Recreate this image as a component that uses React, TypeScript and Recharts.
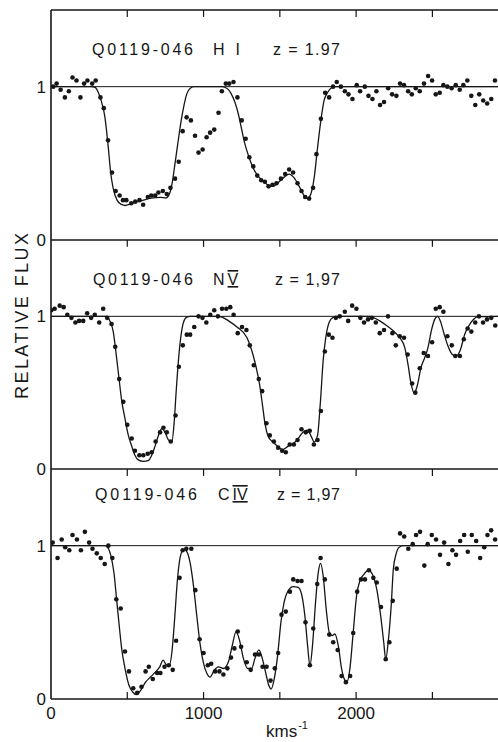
import { ComposedChart, Line, Scatter, XAxis, YAxis, ReferenceLine } from 'recharts';

// velocity (km/s) and relative flux
const hiDots: [number, number][] = [
  [15, 1.0], [37, 1.02], [63, 0.98], [91, 0.93], [117, 0.97], [141, 1.06], [167, 1.04], [193, 0.93], [217, 1.02], [239, 1.04],
  [270, 1.02], [293, 1.04], [324, 0.93], [346, 0.86], [374, 0.65], [400, 0.44], [424, 0.32], [450, 0.29], [472, 0.26], [494, 0.26],
  [526, 0.24], [552, 0.25], [580, 0.26], [604, 0.23], [635, 0.28], [657, 0.29], [683, 0.29], [704, 0.31], [733, 0.32], [759, 0.3],
  [783, 0.34], [813, 0.4], [837, 0.51], [863, 0.71], [889, 0.8], [917, 0.78], [944, 0.68], [967, 0.57], [994, 0.59], [1020, 0.67],
  [1043, 0.7], [1070, 0.72], [1098, 0.83], [1120, 0.97], [1146, 1.02], [1168, 1.02], [1196, 1.03], [1222, 0.93], [1250, 0.78], [1276, 0.66],
  [1300, 0.54], [1326, 0.48], [1352, 0.42], [1378, 0.39], [1402, 0.38], [1426, 0.35], [1452, 0.36], [1478, 0.37], [1507, 0.4], [1535, 0.43],
  [1561, 0.46], [1587, 0.44], [1616, 0.37], [1642, 0.32], [1666, 0.28], [1692, 0.27], [1718, 0.34], [1740, 0.56], [1769, 0.79], [1797, 0.96],
  [1823, 0.93], [1849, 1.0], [1873, 1.03], [1900, 1.0], [1926, 0.97], [1950, 0.95], [1976, 0.92], [2004, 1.01], [2026, 0.97], [2057, 1.0],
  [2081, 0.94], [2107, 0.92], [2133, 0.97], [2157, 0.88], [2183, 0.9], [2210, 0.99], [2236, 0.95], [2264, 0.94], [2288, 1.02], [2314, 1.01],
  [2341, 0.97], [2365, 0.95], [2391, 0.99], [2417, 0.97], [2445, 1.02], [2472, 1.07], [2498, 1.04], [2522, 0.95], [2548, 0.96], [2572, 1.01],
  [2598, 1.0], [2626, 0.99], [2653, 1.01], [2679, 0.98], [2703, 1.01], [2729, 1.04], [2755, 0.94], [2781, 0.88], [2807, 0.95], [2833, 0.91],
  [2859, 0.89], [2886, 0.92], [2910, 1.04],
];

const hiFit: [number, number][] = [
  [0, 1], [265, 1], [289, 0.995], [311, 0.96], [337, 0.88], [352, 0.81], [374, 0.62], [391, 0.44], [407, 0.34], [433, 0.26],
  [461, 0.232], [487, 0.225], [515, 0.232], [548, 0.245], [591, 0.256], [657, 0.273], [718, 0.278], [754, 0.274], [776, 0.3], [794, 0.37],
  [813, 0.5], [830, 0.62], [852, 0.77], [870, 0.87], [889, 0.95], [913, 0.99], [939, 1], [1115, 1], [1152, 0.99], [1178, 0.96],
  [1205, 0.9], [1226, 0.83], [1248, 0.73], [1270, 0.63], [1298, 0.54], [1330, 0.46], [1363, 0.41], [1396, 0.38], [1428, 0.355], [1455, 0.35],
  [1485, 0.37], [1528, 0.41], [1561, 0.43], [1594, 0.405], [1627, 0.35], [1659, 0.29], [1681, 0.27], [1703, 0.3], [1725, 0.405], [1747, 0.6],
  [1769, 0.78], [1790, 0.91], [1812, 0.96], [1834, 0.99], [1867, 1], [2930, 1],
];

const nvDots: [number, number][] = [
  [2, 1.04], [24, 1.05], [57, 1.07], [83, 1.06], [107, 1.01], [134, 0.99], [160, 0.96], [184, 0.97], [211, 0.97], [237, 1.02],
  [263, 0.99], [287, 1.01], [316, 0.96], [342, 1.05], [368, 0.99], [397, 0.95], [421, 0.8], [447, 0.59], [474, 0.44], [500, 0.29],
  [529, 0.2], [550, 0.12], [579, 0.09], [605, 0.09], [634, 0.1], [660, 0.11], [686, 0.18], [715, 0.24], [737, 0.27], [759, 0.24],
  [785, 0.18], [816, 0.35], [838, 0.67], [864, 0.81], [890, 0.88], [912, 0.88], [939, 0.93], [967, 1.0], [993, 0.99], [1018, 0.96],
  [1044, 1.01], [1070, 1.04], [1094, 1.0], [1121, 1.05], [1149, 1.05], [1175, 1.06], [1197, 1.01], [1224, 0.89], [1252, 0.93], [1281, 0.91],
  [1303, 0.81], [1329, 0.68], [1362, 0.59], [1384, 0.51], [1412, 0.3], [1434, 0.22], [1461, 0.18], [1489, 0.14], [1515, 0.12], [1539, 0.11],
  [1565, 0.16], [1592, 0.16], [1616, 0.19], [1642, 0.26], [1670, 0.24], [1696, 0.25], [1723, 0.16], [1747, 0.19], [1769, 0.38], [1795, 0.77],
  [1821, 0.88], [1845, 0.86], [1867, 0.99], [1893, 1.0], [1926, 1.03], [1948, 0.97], [1974, 1.07], [2002, 1.05], [2028, 0.99], [2052, 0.96],
  [2078, 0.98], [2103, 0.99], [2129, 0.96], [2155, 0.89], [2183, 0.91], [2209, 1.0], [2238, 0.89], [2260, 0.81], [2286, 0.87], [2314, 0.86],
  [2338, 0.75], [2367, 0.56], [2388, 0.5], [2417, 0.66], [2443, 0.76], [2471, 0.74], [2498, 0.83], [2522, 1.05], [2548, 1.06], [2572, 1.03],
  [2598, 0.87], [2627, 0.81], [2650, 0.74], [2680, 0.74], [2706, 0.85], [2731, 0.92], [2755, 0.9], [2781, 0.96], [2805, 1.0], [2832, 0.96],
  [2858, 0.98], [2886, 0.99], [2912, 0.94],
];

const nvFit: [number, number][] = [
  [0, 1], [364, 1], [386, 0.97], [408, 0.9], [425, 0.77], [445, 0.6], [463, 0.45], [485, 0.33], [507, 0.22], [529, 0.15],
  [550, 0.09], [572, 0.06], [605, 0.05], [638, 0.055], [660, 0.09], [682, 0.15], [704, 0.22], [726, 0.265], [748, 0.24], [770, 0.19],
  [792, 0.18], [807, 0.3], [820, 0.5], [836, 0.72], [853, 0.88], [868, 0.96], [890, 0.995], [912, 1], [1088, 1], [1121, 0.995],
  [1164, 0.97], [1219, 0.93], [1285, 0.86], [1318, 0.77], [1346, 0.66], [1368, 0.55], [1386, 0.42], [1404, 0.29], [1421, 0.22], [1450, 0.18],
  [1467, 0.166], [1500, 0.137], [1522, 0.128], [1555, 0.15], [1587, 0.166], [1620, 0.199], [1653, 0.243], [1681, 0.254], [1707, 0.21], [1725, 0.177],
  [1747, 0.22], [1766, 0.44], [1784, 0.71], [1801, 0.86], [1823, 0.96], [1849, 0.993], [1882, 1], [2089, 1], [2111, 0.993], [2155, 0.97],
  [2199, 0.94], [2243, 0.905], [2286, 0.86], [2319, 0.795], [2341, 0.68], [2358, 0.57], [2380, 0.497], [2402, 0.55], [2424, 0.66], [2450, 0.73],
  [2471, 0.795], [2493, 0.905], [2515, 0.98], [2533, 1], [2552, 0.97], [2574, 0.894], [2602, 0.806], [2631, 0.75], [2657, 0.74], [2683, 0.78],
  [2712, 0.883], [2740, 0.94], [2766, 0.976], [2799, 0.998], [2930, 1],
];

const civDots: [number, number][] = [
  [11, 1.02], [43, 0.92], [70, 1.04], [93, 0.99], [120, 0.97], [141, 1.07], [170, 1.04], [196, 0.97], [222, 1.09], [250, 1.02],
  [272, 0.98], [300, 0.95], [326, 0.92], [352, 0.88], [376, 1.0], [402, 0.92], [428, 0.65], [457, 0.59], [485, 0.31], [511, 0.18],
  [539, 0.07], [565, 0.04], [593, 0.08], [620, 0.18], [641, 0.21], [667, 0.13], [696, 0.17], [717, 0.17], [744, 0.21], [772, 0.22],
  [798, 0.19], [820, 0.38], [843, 0.79], [863, 0.97], [887, 0.98], [920, 0.98], [946, 0.71], [974, 0.39], [1000, 0.3], [1028, 0.22],
  [1050, 0.23], [1076, 0.18], [1104, 0.18], [1130, 0.16], [1156, 0.2], [1180, 0.27], [1202, 0.33], [1224, 0.44], [1246, 0.34], [1283, 0.24],
  [1309, 0.19], [1337, 0.29], [1363, 0.29], [1387, 0.21], [1413, 0.21], [1439, 0.12], [1467, 0.2], [1489, 0.3], [1511, 0.55], [1539, 0.57],
  [1566, 0.7], [1588, 0.78], [1616, 0.77], [1642, 0.77], [1668, 0.5], [1697, 0.22], [1719, 0.46], [1745, 0.75], [1767, 0.92], [1795, 0.78],
  [1824, 0.42], [1850, 0.37], [1879, 0.32], [1905, 0.15], [1933, 0.11], [1961, 0.15], [1981, 0.43], [2007, 0.7], [2032, 0.78], [2058, 0.78],
  [2084, 0.84], [2113, 0.79], [2135, 0.76], [2163, 0.6], [2194, 0.26], [2218, 0.37], [2240, 0.64], [2266, 0.85], [2288, 1.08], [2315, 1.06],
  [2342, 0.98], [2371, 1.01], [2393, 1.07], [2419, 1.09], [2447, 0.87], [2469, 1.01], [2496, 1.07], [2524, 1.04], [2550, 0.94], [2577, 1.02],
  [2605, 0.88], [2631, 0.97], [2655, 0.94], [2682, 1.03], [2708, 1.07], [2732, 0.96], [2758, 1.07], [2787, 1.03], [2813, 0.92], [2840, 0.99],
  [2861, 1.07], [2885, 1.1], [2911, 1.04],
];

const civFit: [number, number][] = [
  [0, 1], [350, 1], [370, 0.99], [391, 0.94], [413, 0.82], [431, 0.64], [446, 0.49], [463, 0.33], [485, 0.2], [511, 0.09],
  [537, 0.044], [559, 0.029], [587, 0.055], [620, 0.11], [652, 0.143], [685, 0.177], [713, 0.21], [735, 0.254], [754, 0.225], [776, 0.22],
  [793, 0.31], [811, 0.53], [828, 0.77], [848, 0.93], [870, 0.976], [891, 0.96], [913, 0.883], [935, 0.73], [957, 0.53], [978, 0.353],
  [1000, 0.232], [1022, 0.166], [1043, 0.143], [1070, 0.188], [1098, 0.21], [1130, 0.199], [1163, 0.243], [1189, 0.353], [1213, 0.44], [1235, 0.386],
  [1261, 0.265], [1289, 0.199], [1315, 0.199], [1337, 0.265], [1363, 0.32], [1385, 0.265], [1406, 0.177], [1428, 0.088], [1443, 0.065], [1463, 0.13],
  [1485, 0.28], [1507, 0.5], [1528, 0.63], [1555, 0.707], [1588, 0.733], [1620, 0.728], [1642, 0.685], [1664, 0.543], [1682, 0.348], [1697, 0.217],
  [1714, 0.348], [1734, 0.63], [1752, 0.826], [1767, 0.885], [1784, 0.804], [1806, 0.565], [1824, 0.435], [1843, 0.413], [1861, 0.424], [1883, 0.348],
  [1905, 0.196], [1927, 0.12], [1940, 0.109], [1959, 0.196], [1981, 0.435], [2003, 0.674], [2025, 0.772], [2053, 0.815], [2080, 0.841], [2106, 0.815],
  [2135, 0.717], [2161, 0.543], [2181, 0.37], [2194, 0.26], [2212, 0.39], [2230, 0.61], [2244, 0.848], [2262, 0.946], [2282, 0.99], [2310, 1],
  [2930, 1],
];

const tickKms = [500, 1000, 1500, 2000, 2500];
const labelKms = [0, 1000, 2000];
const fluxTicks = [0, 1];
const X_MAX = 2930;
const Y_MAX = 1.5;

const INK = '#161616';
const FONT = '"Liberation Sans", Arial, sans-serif';
const MT = 10;
const AXH = 30;

const toRows = (pts: [number, number][]) => pts.map(([v, f]) => ({ v, f }));

const Dot = (props: any) => <circle cx={props.cx} cy={props.cy} r={2.3} fill={INK} />;

interface PanelProps {
  dots: [number, number][];
  fit: [number, number][];
  plotTop: number;
  plotH: number;
  topBorder?: boolean;
  bottom?: boolean;
}

function Panel({ dots, fit, plotTop, plotH, topBorder, bottom }: PanelProps) {
  return (
    <div style={{ position: 'absolute', left: 0, top: plotTop - MT }}>
      <ComposedChart width={498} height={MT + plotH + AXH} margin={{ top: MT, right: 0, bottom: 0, left: 0 }}>
        <XAxis
          type="number"
          dataKey="v"
          domain={[0, X_MAX]}
          allowDataOverflow
          ticks={bottom ? labelKms : tickKms}
          interval={0}
          tick={bottom ? { fontSize: 17, fill: INK, fontFamily: FONT } : false}
          tickLine={false}
          tickSize={0}
          tickMargin={8}
          height={AXH}
          axisLine={{ stroke: INK, strokeWidth: 1.6 }}
        />
        <YAxis
          type="number"
          dataKey="f"
          domain={[0, Y_MAX]}
          allowDataOverflow
          ticks={fluxTicks}
          interval={0}
          width={51}
          tick={{ fontSize: 17, fill: INK, fontFamily: FONT }}
          tickLine={false}
          tickSize={0}
          tickMargin={5}
          axisLine={{ stroke: INK, strokeWidth: 1.6 }}
        />
        {topBorder && <ReferenceLine y={Y_MAX} stroke={INK} strokeWidth={1.6} />}
        <ReferenceLine y={1} stroke={INK} strokeWidth={1} />
        {tickKms.map((t) => (
          <ReferenceLine
            key={`t${t}`}
            segment={[{ x: t, y: Y_MAX }, { x: t, y: Y_MAX - 0.045 }]}
            stroke={INK}
            strokeWidth={1.2}
          />
        ))}
        {bottom &&
          tickKms.map((t) => (
            <ReferenceLine
              key={`b${t}`}
              segment={[{ x: t, y: 0 }, { x: t, y: 0.045 }]}
              stroke={INK}
              strokeWidth={1.2}
            />
          ))}
        <Line
          data={toRows(fit)}
          dataKey="f"
          type="monotone"
          stroke={INK}
          strokeWidth={1.3}
          dot={false}
          isAnimationActive={false}
        />
        <Scatter data={toRows(dots)} dataKey="f" shape={Dot} isAnimationActive={false} />
      </ComposedChart>
    </div>
  );
}

const titleStyle = { fontSize: 16, fill: INK, fontFamily: FONT };
const bars = { textDecoration: 'underline overline' } as const;

export default function App() {
  return (
    <div
      style={{
        position: 'absolute',
        left: 0,
        top: 0,
        width: 498,
        height: 742,
        overflow: 'hidden',
        background: '#fff',
        fontFamily: FONT,
      }}
    >
      <Panel dots={hiDots} fit={hiFit} plotTop={10} plotH={230} topBorder />
      <Panel dots={nvDots} fit={nvFit} plotTop={240} plotH={229} />
      <Panel dots={civDots} fit={civFit} plotTop={469} plotH={230} bottom />
      <svg width={498} height={742} style={{ position: 'absolute', left: 0, top: 0, pointerEvents: 'none' }}>
        <text x={92} y={55} textLength={101} lengthAdjust="spacing" {...titleStyle}>Q0119-046</text>
        <text x={213} y={55} textLength={27} lengthAdjust="spacing" {...titleStyle}>HI</text>
        <text x={273} y={55} textLength={67} lengthAdjust="spacing" {...titleStyle}>z = 1.97</text>

        <text x={93} y={285} textLength={100} lengthAdjust="spacing" {...titleStyle}>Q0119-046</text>
        <text x={213} y={285} {...titleStyle}>
          N<tspan dx={3} style={bars}>V</tspan>
        </text>
        <text x={275} y={285} textLength={65} lengthAdjust="spacing" {...titleStyle}>z = 1,97</text>

        <text x={95} y={500} textLength={102} lengthAdjust="spacing" {...titleStyle}>Q0119-046</text>
        <text x={218} y={500} {...titleStyle}>
          C<tspan dx={3} style={bars}>IV</tspan>
        </text>
        <text x={277} y={500} textLength={63} lengthAdjust="spacing" {...titleStyle}>z = 1,97</text>

        <text
          x={28}
          y={316}
          transform="rotate(-90 28 316)"
          textAnchor="middle"
          textLength={166}
          lengthAdjust="spacing"
          fontSize={18}
          fill={INK}
          fontFamily={FONT}
        >
          RELATIVE FLUX
        </text>
        <text x={266} y={737} fontSize={17} fill={INK} fontFamily={FONT}>
          kms<tspan dx={1} dy={-8} fontSize={11}>-1</tspan>
        </text>
      </svg>
    </div>
  );
}
